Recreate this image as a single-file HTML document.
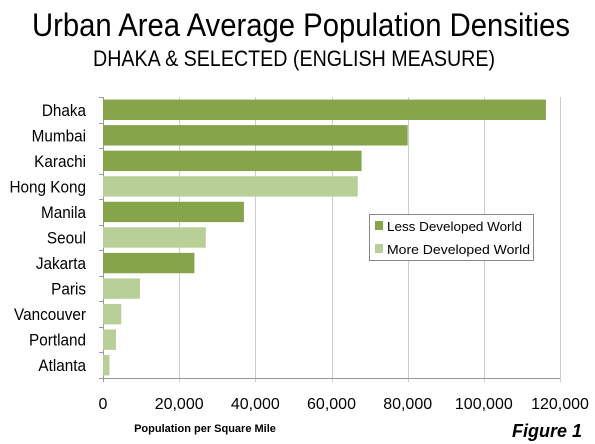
<!DOCTYPE html>
<html><head><meta charset="utf-8"><style>body{margin:0;background:#fff}svg{display:block}text{font-family:"Liberation Sans",sans-serif}</style></head>
<body>
<svg id="chart" width="595" height="444">
<text x="301" y="36" font-size="32" text-anchor="middle" textLength="538" lengthAdjust="spacingAndGlyphs">Urban Area Average Population Densities</text>
<text x="294" y="66" font-size="22" text-anchor="middle" textLength="402" lengthAdjust="spacingAndGlyphs">DHAKA &amp; SELECTED (ENGLISH MEASURE)</text>
<g id="grid"></g><g id="bars"></g><g id="cats"></g><g id="ticks"></g>
<g>
<rect x="369.5" y="214.5" width="164" height="46" fill="#fff" stroke="#888"/>
<rect x="375" y="221" width="8" height="9" fill="#86a44a"/>
<text x="387" y="231" font-size="13" textLength="135" lengthAdjust="spacingAndGlyphs">Less Developed World</text>
<rect x="375" y="244" width="8" height="9" fill="#b8d098"/>
<text x="387" y="254" font-size="13" textLength="143" lengthAdjust="spacingAndGlyphs">More Developed World</text>
</g>
<text x="205" y="432" font-size="11" font-weight="bold" text-anchor="middle">Population per Square Mile</text>
<text x="582" y="437" font-size="18" font-weight="bold" font-style="italic" text-anchor="end">Figure 1</text>
</svg>
<script>
const categories=["Dhaka","Mumbai","Karachi","Hong Kong","Manila","Seoul","Jakarta","Paris","Vancouver","Portland","Atlanta"];
const values=[116300,80000,67900,66900,37000,27000,24000,9700,4800,3400,1700];
const developed=[0,0,0,1,0,1,0,1,1,1,1];
const tickValues=[0,20000,40000,60000,80000,100000,120000];
const tickLabels=["0","20,000","40,000","60,000","80,000","100,000","120,000"];
const NS="http://www.w3.org/2000/svg";
const x0=103,x1=560,yTop=97,yBot=378,maxV=120000;
const xs=v=>x0+(v/maxV)*(x1-x0);
const band=(yBot-yTop)/categories.length;
function mk(t,a,p){const e=document.createElementNS(NS,t);for(const k in a)e.setAttribute(k,a[k]);document.getElementById(p).appendChild(e);return e;}
tickValues.forEach((v,i)=>{
 const x=Math.round(xs(v))+0.5;
 const g=mk("line",{x1:x,x2:x,y1:yTop,y2:yBot+4,stroke:i==0?"#999":"#ccc"},"grid");
 
 
 const t=mk("text",{x:xs(v),y:409,"font-size":16,"text-anchor":"middle"},"ticks");
 t.textContent=tickLabels[i];
 
 
});
for(let i=0;i<=categories.length;i++){
 const y=Math.round(yTop+i*band)+0.5;
 const l=mk("line",{x1:x0-4,x2:x0,y1:y,y2:y,stroke:"#999"},"grid");
 
 
}
mk("line",{x1:x0,x2:x1,y1:yBot+0.5,y2:yBot+0.5,stroke:"#999"},"grid");
categories.forEach((c,i)=>{
 const yc=yTop+(i+0.5)*band;
 const r=mk("rect",{x:x0,y:yc-10.2,width:xs(values[i])-x0,height:20.4,fill:developed[i]?"#b8d098":"#86a44a"},"bars");
 
 
 const t=mk("text",{x:86,y:yc+6,"font-size":17,"text-anchor":"end",transform:`translate(86 0) scale(0.9 1) translate(-86 0)`},"cats");
 t.textContent=c;
 
 
});
</script>
</body></html>
